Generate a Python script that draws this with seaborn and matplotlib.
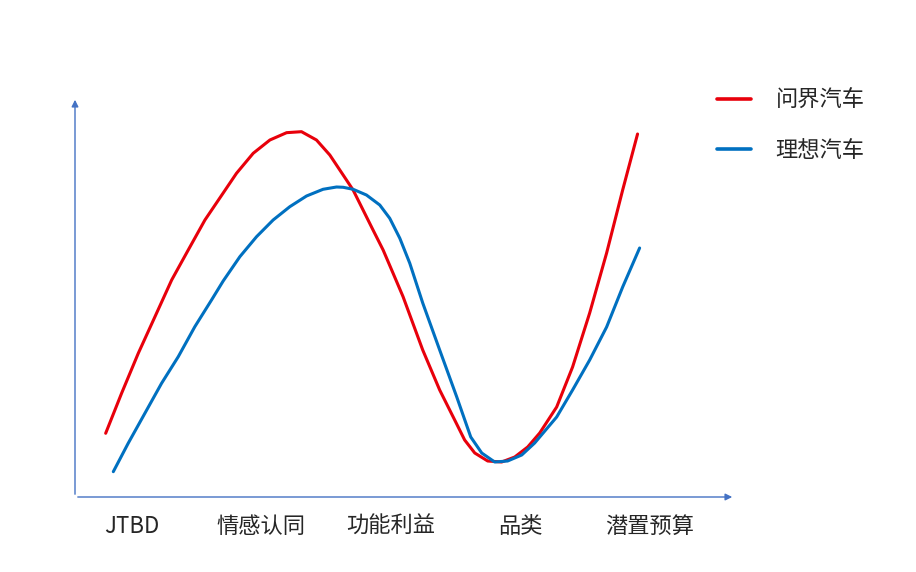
import pandas as pd
import seaborn as sns
import matplotlib.pyplot as plt

# Kategorien der x-Achse
categories = ["JTBD", "情感认同", "功能利益", "品类", "潜置预算"]
series_names = ["问界汽车", "理想汽车"]

# Kurvenpunkte (x in Kategorie-Einheiten, y 0-100)
wenjie_x = [-0.203, -0.080, 0.049, 0.178, 0.307, 0.435, 0.564, 0.680, 0.808,
            0.937, 1.066, 1.195, 1.310, 1.426, 1.529, 1.632, 1.709, 1.786,
            1.863, 1.941, 2.018, 2.095, 2.170, 2.247, 2.378, 2.494, 2.571,
            2.649, 2.749, 2.857, 2.958, 3.058, 3.151, 3.282, 3.405, 3.537,
            3.668, 3.792, 3.907]
wenjie_y = [15.93, 25.93, 35.93, 45.08, 54.25, 61.75, 69.25, 74.8, 80.93,
            85.93, 89.25, 91.08, 91.33, 89.25, 85.5, 80.5, 76.75, 71.75,
            66.75, 61.75, 55.93, 50.08, 43.5, 36.75, 26.75, 19.25, 14.25,
            11.0, 9.0, 8.75, 10.0, 12.5, 16.0, 22.5, 32.5, 46.0,
            61.0, 76.75, 90.75]

lixiang_x = [-0.144, -0.029, 0.100, 0.229, 0.358, 0.486, 0.615, 0.705, 0.834,
             0.963, 1.091, 1.220, 1.349, 1.477, 1.581, 1.632, 1.709, 1.812,
             1.915, 1.992, 2.070, 2.147, 2.247, 2.378, 2.510, 2.618, 2.703,
             2.803, 2.903, 3.012, 3.112, 3.282, 3.405, 3.537, 3.668, 3.792,
             3.923]
lixiang_y = [6.33, 13.43, 20.93, 28.43, 35.08, 42.58, 49.25, 54.0, 60.08,
             65.08, 69.25, 72.58, 75.25, 76.93, 77.5, 77.43, 76.93, 75.5,
             73.0, 69.68, 64.68, 58.43, 48.5, 36.75, 25.0, 15.0, 11.0,
             8.75, 9.0, 10.5, 13.5, 20.0, 26.75, 34.25, 42.5, 52.5,
             62.25]

colors = ["#E8000B", "#0070C0"]

df = pd.concat([
    pd.DataFrame({"x": wenjie_x, "y": wenjie_y, "series": series_names[0]}),
    pd.DataFrame({"x": lixiang_x, "y": lixiang_y, "series": series_names[1]}),
])

sns.set_style("white")
plt.rcParams["font.family"] = ["Noto Sans CJK SC", "DejaVu Sans"]

fig = plt.figure(figsize=(9.16, 5.72), dpi=100)
ax = fig.add_axes([75 / 916, 1 - 497 / 572, 660 / 916, 400 / 572])

sns.lineplot(data=df, x="x", y="y", hue="series", palette=colors,
             estimator=None, sort=False, linewidth=2.2, ax=ax)
for line in ax.get_lines():
    line.set_solid_joinstyle("round")

ax.set_xlim(-0.44, 4.66)
ax.set_ylim(0, 100)
ax.set_xticks(range(len(categories)))
ax.set_xticklabels(categories, fontsize=16)
ax.set_yticks([])
ax.tick_params(axis="x", length=0, pad=13)
ax.set_xlabel("")
ax.set_ylabel("")
for s in ax.spines.values():
    s.set_visible(False)

# Achsen mit Pfeilen
axis_color = "#4472C4"
ax.annotate("", xy=(1, 0), xytext=(0, 0), xycoords="axes fraction",
            arrowprops=dict(arrowstyle="-|>", color=axis_color, lw=1, mutation_scale=10))
ax.annotate("", xy=(0, 1), xytext=(0, 0), xycoords="axes fraction",
            arrowprops=dict(arrowstyle="-|>", color=axis_color, lw=1, mutation_scale=10))

ax.legend(title=None, frameon=False, fontsize=16, loc="upper left",
          bbox_to_anchor=(717 / 916, 1 - 89 / 572), bbox_transform=fig.transFigure,
          borderaxespad=0, borderpad=0, handlelength=1.55, handletextpad=1.08,
          labelspacing=1.2)
for line in ax.get_legend().get_lines():
    line.set_linewidth(2.6)

fig.savefig("out.png", dpi=100)
